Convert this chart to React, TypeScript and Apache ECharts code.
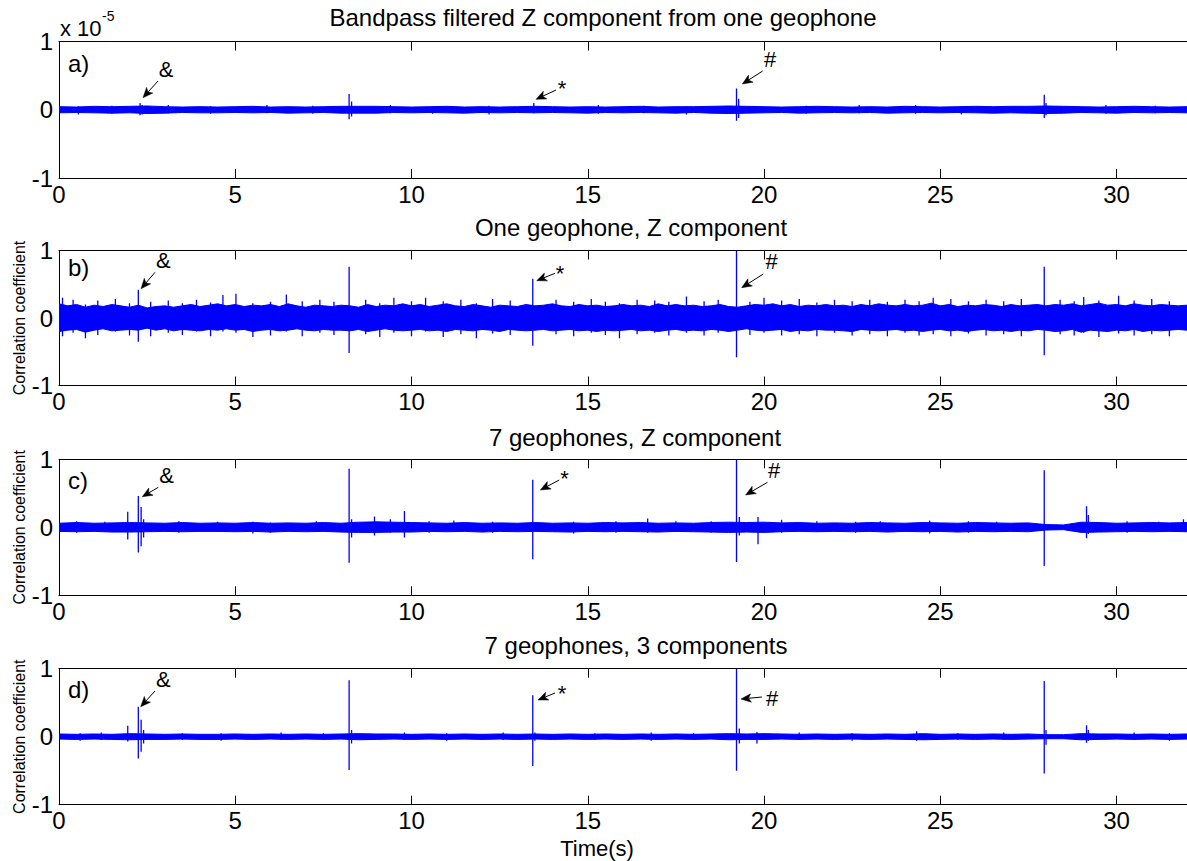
import React, { useEffect, useRef } from 'react';
import * as echarts from 'echarts';

// ---------- data ----------
const X_MIN = 0;
const X_MAX = 32;
const X_INTERVAL = 5;
const Y_MIN = -1;
const Y_MAX = 1;
const Y_INTERVAL = 1;

const TITLES = [
  'Bandpass filtered Z component from one geophone',
  'One geophone, Z component',
  '7 geophones, Z component',
  '7 geophones, 3 components',
];
const PANEL_LETTERS = ['a)', 'b)', 'c)', 'd)'];
const Y_NAME = 'Correlation coefficient';
const X_NAME = 'Time(s)';
const SCALE_BASE = 'x 10';
const SCALE_EXP = '-5';

// noise envelope, panel a (units of 1e-5), one value every 0.5 s from t = 0
const STEP_A = 0.5;
const HI_A = [
  0.045, 0.04, 0.05, 0.045, 0.05, 0.055, 0.045, 0.04, 0.045,
  0.04, 0.045, 0.05, 0.04, 0.045, 0.04, 0.045, 0.05, 0.05,
  0.05, 0.045, 0.04, 0.045, 0.05, 0.04, 0.045, 0.04, 0.045,
  0.05, 0.045, 0.04, 0.045, 0.04, 0.045, 0.05, 0.04, 0.045,
  0.045, 0.05, 0.055, 0.05, 0.045, 0.04, 0.045, 0.05, 0.045,
  0.04, 0.045, 0.04, 0.05, 0.045, 0.04, 0.045, 0.05, 0.045,
  0.05, 0.05, 0.055, 0.05, 0.045, 0.04, 0.045, 0.05, 0.045,
  0.04, 0.045,
];
const LO_A = [
  -0.045, -0.04, -0.045, -0.05, -0.045, -0.055, -0.05, -0.04, -0.045,
  -0.045, -0.04, -0.045, -0.04, -0.05, -0.045, -0.04, -0.05, -0.05,
  -0.05, -0.04, -0.045, -0.04, -0.045, -0.05, -0.04, -0.045, -0.04,
  -0.045, -0.04, -0.045, -0.05, -0.04, -0.045, -0.04, -0.045, -0.05,
  -0.04, -0.05, -0.055, -0.05, -0.045, -0.04, -0.05, -0.045, -0.04,
  -0.045, -0.04, -0.05, -0.045, -0.04, -0.045, -0.04, -0.045, -0.05,
  -0.045, -0.05, -0.055, -0.05, -0.04, -0.045, -0.05, -0.04, -0.045,
  -0.04, -0.045,
];
// spikes [t, low, high]
const SPIKES_A = [
  [2.3, -0.08, 0.1], [2.36, -0.07, 0.07], [8.23, -0.14, 0.23], [8.3, -0.1, 0.12], [13.47, -0.05, 0.1],
  [19.22, -0.16, 0.31], [19.28, -0.12, 0.16], [27.95, -0.12, 0.22], [28.0, -0.08, 0.1],
  [0.55, -0.07, 0.05], [1.5, -0.06, 0.06], [3.1, -0.05, 0.07], [4.3, -0.06, 0.05],
  [5.9, -0.05, 0.07], [7.2, -0.06, 0.06], [9.4, -0.05, 0.07], [10.6, -0.06, 0.05],
  [12.2, -0.07, 0.06], [15.3, -0.06, 0.07], [16.6, -0.05, 0.06], [17.8, -0.07, 0.05],
  [21.2, -0.06, 0.06], [22.7, -0.05, 0.07], [24.3, -0.06, 0.07], [25.6, -0.07, 0.05],
  [29.7, -0.06, 0.07], [31.1, -0.05, 0.06],
];

// panel b, one value every 0.25 s
const STEP_B = 0.25;
const HI_B = [
  0.21, 0.18, 0.2, 0.16, 0.19, 0.17, 0.2, 0.18,
  0.16, 0.19, 0.15, 0.17, 0.18, 0.16, 0.18, 0.2,
  0.17, 0.19, 0.21, 0.18, 0.2, 0.17, 0.19, 0.18,
  0.2, 0.17, 0.21, 0.18, 0.16, 0.19, 0.18, 0.17,
  0.19, 0.18, 0.16, 0.2, 0.17, 0.19, 0.18, 0.21,
  0.18, 0.2, 0.17, 0.19, 0.21, 0.18, 0.17, 0.2,
  0.18, 0.16, 0.19, 0.18, 0.17, 0.2, 0.18, 0.19,
  0.21, 0.18, 0.17, 0.2, 0.18, 0.19, 0.17, 0.18,
  0.2, 0.18, 0.19, 0.17, 0.21, 0.18, 0.2, 0.18,
  0.19, 0.17, 0.18, 0.2, 0.17, 0.16, 0.18, 0.2,
  0.19, 0.21, 0.18, 0.2, 0.17, 0.19, 0.18, 0.2,
  0.18, 0.19, 0.17, 0.2, 0.18, 0.21, 0.19, 0.18,
  0.2, 0.18, 0.19, 0.22, 0.18, 0.2, 0.17, 0.19,
  0.18, 0.2, 0.19, 0.17, 0.2, 0.18, 0.19, 0.2,
  0.18, 0.2, 0.19, 0.21, 0.18, 0.2, 0.22, 0.19,
  0.2, 0.18, 0.21, 0.19, 0.18, 0.2, 0.19, 0.18,
  0.19,
];
const LO_B = [
  -0.2, -0.18, -0.17, -0.21, -0.18, -0.16, -0.19, -0.18,
  -0.17, -0.18, -0.15, -0.18, -0.16, -0.19, -0.17, -0.18,
  -0.19, -0.17, -0.18, -0.16, -0.18, -0.17, -0.2, -0.18,
  -0.17, -0.19, -0.18, -0.16, -0.18, -0.19, -0.17, -0.18,
  -0.18, -0.19, -0.17, -0.2, -0.18, -0.16, -0.18, -0.19,
  -0.18, -0.17, -0.19, -0.18, -0.2, -0.17, -0.18, -0.19,
  -0.17, -0.18, -0.2, -0.17, -0.18, -0.19, -0.18, -0.17,
  -0.19, -0.18, -0.17, -0.19, -0.18, -0.2, -0.18, -0.19,
  -0.18, -0.17, -0.19, -0.18, -0.2, -0.18, -0.17, -0.19,
  -0.18, -0.19, -0.17, -0.18, -0.2, -0.18, -0.16, -0.18,
  -0.19, -0.18, -0.17, -0.2, -0.18, -0.19, -0.17, -0.18,
  -0.18, -0.19, -0.2, -0.17, -0.18, -0.19, -0.18, -0.17,
  -0.19, -0.18, -0.2, -0.18, -0.17, -0.19, -0.18, -0.2,
  -0.18, -0.17, -0.19, -0.18, -0.2, -0.18, -0.19, -0.17,
  -0.18, -0.2, -0.19, -0.17, -0.21, -0.18, -0.19, -0.2,
  -0.18, -0.19, -0.17, -0.2, -0.18, -0.19, -0.18, -0.17,
  -0.18,
];
const SPIKES_B = [
  [2.25, -0.35, 0.42], [8.23, -0.52, 0.76], [13.44, -0.41, 0.58], [19.22, -0.58, 1.0], [27.95, -0.55, 0.76],
  [0.1, -0.27, 0.3], [0.4, -0.22, 0.27], [0.75, -0.3, 0.2], [1.1, -0.25, 0.26], [1.6, -0.2, 0.28],
  [2.0, -0.26, 0.22], [2.6, -0.27, 0.24], [3.1, -0.22, 0.26], [3.5, -0.25, 0.22], [3.9, -0.2, 0.27],
  [4.3, -0.27, 0.23], [4.65, -0.2, 0.34], [5.02, -0.22, 0.36], [5.5, -0.28, 0.22], [6.0, -0.26, 0.24],
  [6.45, -0.2, 0.35], [6.9, -0.27, 0.25], [7.4, -0.22, 0.27], [7.8, -0.25, 0.24], [8.7, -0.24, 0.27],
  [9.1, -0.28, 0.22], [9.5, -0.22, 0.3], [10.0, -0.27, 0.25], [10.4, -0.2, 0.3], [10.9, -0.28, 0.25],
  [11.4, -0.24, 0.27], [11.84, -0.3, 0.22], [12.3, -0.23, 0.28], [12.8, -0.25, 0.26], [14.1, -0.24, 0.27],
  [14.6, -0.27, 0.24], [15.1, -0.22, 0.28], [15.5, -0.25, 0.24], [15.9, -0.3, 0.22], [16.4, -0.24, 0.27],
  [16.9, -0.22, 0.26], [17.3, -0.26, 0.24], [17.8, -0.22, 0.32], [18.3, -0.26, 0.25], [18.7, -0.22, 0.27],
  [19.6, -0.25, 0.24], [20.0, -0.22, 0.3], [20.5, -0.26, 0.26], [21.0, -0.24, 0.28], [21.5, -0.27, 0.23],
  [22.0, -0.22, 0.27], [22.5, -0.26, 0.25], [23.0, -0.24, 0.27], [23.5, -0.27, 0.24], [24.0, -0.22, 0.27],
  [24.4, -0.26, 0.25], [24.8, -0.24, 0.3], [25.3, -0.27, 0.28], [25.8, -0.23, 0.25], [26.3, -0.26, 0.27],
  [26.8, -0.24, 0.25], [27.3, -0.27, 0.28], [28.4, -0.24, 0.27], [28.8, -0.26, 0.25], [29.07, -0.22, 0.31],
  [29.5, -0.28, 0.26], [30.06, -0.23, 0.33], [30.5, -0.26, 0.26], [31.0, -0.24, 0.28], [31.5, -0.27, 0.25],
];

// panel c, one value every 0.5 s
const STEP_C = 0.5;
const HI_C = [
  0.06, 0.07, 0.06, 0.065, 0.07, 0.065, 0.06, 0.07, 0.06,
  0.065, 0.06, 0.07, 0.06, 0.065, 0.06, 0.07, 0.06, 0.075,
  0.08, 0.075, 0.07, 0.065, 0.06, 0.07, 0.06, 0.065, 0.06,
  0.07, 0.06, 0.065, 0.06, 0.07, 0.065, 0.07, 0.06, 0.065,
  0.06, 0.07, 0.075, 0.07, 0.075, 0.065, 0.07, 0.06, 0.065,
  0.06, 0.07, 0.065, 0.06, 0.07, 0.065, 0.06, 0.07, 0.065,
  0.06, 0.065, 0.04, 0.035, 0.075, 0.07, 0.06, 0.065, 0.07,
  0.065, 0.07,
];
const LO_C = [
  -0.06, -0.065, -0.06, -0.07, -0.07, -0.065, -0.06, -0.065, -0.06,
  -0.06, -0.065, -0.06, -0.07, -0.06, -0.065, -0.06, -0.07, -0.075,
  -0.075, -0.07, -0.07, -0.06, -0.065, -0.06, -0.07, -0.06, -0.065,
  -0.06, -0.065, -0.07, -0.06, -0.065, -0.06, -0.065, -0.07, -0.06,
  -0.065, -0.07, -0.075, -0.07, -0.075, -0.065, -0.06, -0.065, -0.06,
  -0.065, -0.06, -0.07, -0.06, -0.065, -0.06, -0.07, -0.06, -0.065,
  -0.06, -0.065, -0.04, -0.035, -0.075, -0.07, -0.065, -0.06, -0.065,
  -0.06, -0.065,
];
const SPIKES_C = [
  [1.95, -0.18, 0.23], [2.25, -0.37, 0.46], [2.33, -0.28, 0.3], [2.4, -0.15, 0.12],
  [8.23, -0.52, 0.86], [8.3, -0.15, 0.12], [8.95, -0.12, 0.16], [9.4, -0.08, 0.12], [9.8, -0.15, 0.24],
  [13.44, -0.47, 0.7], [19.22, -0.51, 1.0], [19.3, -0.12, 0.15], [19.83, -0.25, 0.15],
  [27.95, -0.57, 0.84], [29.15, -0.16, 0.31], [29.2, -0.1, 0.18],
  [0.5, -0.08, 0.09], [1.3, -0.07, 0.08], [3.4, -0.08, 0.09], [4.5, -0.07, 0.08], [5.5, -0.09, 0.08],
  [6.0, -0.08, 0.07], [7.3, -0.07, 0.09], [10.5, -0.08, 0.09], [11.2, -0.07, 0.1], [12.3, -0.08, 0.08],
  [14.6, -0.09, 0.08], [15.8, -0.08, 0.09], [16.7, -0.08, 0.13], [17.5, -0.07, 0.09], [18.5, -0.08, 0.09],
  [20.5, -0.08, 0.11], [21.5, -0.07, 0.09], [22.6, -0.08, 0.08], [23.3, -0.07, 0.09], [24.7, -0.09, 0.1],
  [25.8, -0.08, 0.09], [26.6, -0.07, 0.08], [30.3, -0.08, 0.09], [31.2, -0.07, 0.08], [31.9, -0.06, 0.12],
];

// panel d, one value every 0.5 s
const STEP_D = 0.5;
const HI_D = [
  0.04, 0.035, 0.04, 0.035, 0.045, 0.04, 0.035, 0.04, 0.035,
  0.035, 0.04, 0.035, 0.04, 0.035, 0.04, 0.035, 0.04, 0.045,
  0.04, 0.04, 0.035, 0.04, 0.035, 0.04, 0.035, 0.04, 0.035,
  0.04, 0.035, 0.04, 0.035, 0.04, 0.035, 0.04, 0.035, 0.04,
  0.035, 0.04, 0.045, 0.04, 0.045, 0.04, 0.035, 0.04, 0.035,
  0.04, 0.035, 0.04, 0.035, 0.045, 0.035, 0.04, 0.035, 0.04,
  0.035, 0.04, 0.03, 0.03, 0.045, 0.04, 0.04, 0.035, 0.04,
  0.035, 0.04,
];
const LO_D = [
  -0.035, -0.04, -0.035, -0.04, -0.045, -0.04, -0.04, -0.035, -0.04,
  -0.04, -0.035, -0.04, -0.035, -0.04, -0.035, -0.04, -0.035, -0.045,
  -0.04, -0.035, -0.04, -0.035, -0.04, -0.035, -0.04, -0.035, -0.04,
  -0.035, -0.04, -0.035, -0.04, -0.035, -0.04, -0.035, -0.04, -0.035,
  -0.04, -0.035, -0.045, -0.04, -0.04, -0.035, -0.04, -0.035, -0.04,
  -0.035, -0.04, -0.035, -0.04, -0.045, -0.04, -0.035, -0.04, -0.035,
  -0.04, -0.035, -0.03, -0.03, -0.045, -0.04, -0.035, -0.04, -0.035,
  -0.04, -0.035,
];
const SPIKES_D = [
  [1.95, -0.07, 0.16], [2.25, -0.32, 0.44], [2.33, -0.22, 0.25], [2.4, -0.1, 0.1],
  [8.23, -0.49, 0.83], [8.3, -0.1, 0.1], [13.44, -0.43, 0.61], [13.5, -0.06, 0.06],
  [19.22, -0.5, 1.0], [19.3, -0.1, 0.12], [19.8, -0.1, 0.07], [27.95, -0.54, 0.82],
  [28.0, -0.12, 0.1], [29.15, -0.09, 0.17], [29.2, -0.06, 0.1],
  [0.6, -0.06, 0.05], [1.2, -0.05, 0.06], [3.5, -0.05, 0.05], [4.6, -0.06, 0.05], [6.3, -0.05, 0.06],
  [7.5, -0.05, 0.05], [9.8, -0.05, 0.06], [11.0, -0.06, 0.05], [12.6, -0.05, 0.06], [15.2, -0.05, 0.05],
  [16.8, -0.06, 0.06], [18.0, -0.05, 0.05], [21.0, -0.05, 0.06], [22.5, -0.06, 0.05], [24.33, -0.06, 0.08],
  [25.5, -0.05, 0.05], [26.8, -0.05, 0.06], [30.5, -0.05, 0.06], [31.5, -0.06, 0.05],
];

const PANELS = [
  { step: STEP_A, hi: HI_A, lo: LO_A, spikes: SPIKES_A },
  { step: STEP_B, hi: HI_B, lo: LO_B, spikes: SPIKES_B },
  { step: STEP_C, hi: HI_C, lo: LO_C, spikes: SPIKES_C },
  { step: STEP_D, hi: HI_D, lo: LO_D, spikes: SPIKES_D },
];

// ---------- layout / style ----------
const BLUE = '#0000ff';
const FONT = '"Liberation Sans", Arial, Helvetica, sans-serif';
const GRIDS = [
  { left: 59, top: 41.5, width: 1129.6, height: 136.5 },
  { left: 59, top: 250.5, width: 1129.6, height: 135 },
  { left: 59, top: 459.3, width: 1129.6, height: 136 },
  { left: 59, top: 668.7, width: 1129.6, height: 136 },
];
const TITLE_POS = [
  [603, 17],
  [631, 227],
  [635, 437],
  [636, 645],
];
const LETTER_POS = [
  [68, 63],
  [68, 267],
  [68, 480],
  [68, 689],
];
// annotations: symbol, text position, arrow tail, arrow head (pixels)
const ANNOTATIONS: [string, number[], number[], number[]][] = [
  ['&', [166, 69], [158, 81], [143, 97.7]],
  ['*', [562, 88], [556, 90], [536, 99.3]],
  ['#', [770, 59], [762.7, 71], [742.3, 84]],
  ['&', [163.3, 260.7], [155, 272.3], [141, 288.7]],
  ['*', [560, 273], [555, 273.3], [536.7, 280.7]],
  ['#', [771.7, 261.7], [763.3, 274], [741.7, 287.7]],
  ['&', [166.7, 475], [158.3, 487.3], [142.3, 496.7]],
  ['*', [564.5, 478], [559.2, 480], [540.4, 490]],
  ['#', [774, 470], [767.5, 482.3], [745.6, 495]],
  ['&', [163.3, 679], [155, 691], [140.7, 706.7]],
  ['*', [562, 693], [555, 693], [538, 700]],
  ['#', [772, 698], [762, 697], [741, 699]],
];

function arrowElements(tail: number[], head: number[]) {
  const dx = head[0] - tail[0];
  const dy = head[1] - tail[1];
  const len = Math.hypot(dx, dy) || 1;
  const ux = dx / len;
  const uy = dy / len;
  const px = -uy;
  const py = ux;
  const hl = 10;
  const hw = 4.2;
  const bx = head[0] - ux * hl;
  const by = head[1] - uy * hl;
  const nx = head[0] - ux * hl * 0.75;
  const ny = head[1] - uy * hl * 0.75;
  return [
    {
      type: 'line',
      z: 100,
      shape: { x1: tail[0], y1: tail[1], x2: nx, y2: ny },
      style: { stroke: '#000', lineWidth: 1 },
    },
    {
      type: 'polygon',
      z: 100,
      shape: {
        points: [
          [head[0], head[1]],
          [bx + px * hw, by + py * hw],
          [nx, ny],
          [bx - px * hw, by - py * hw],
        ],
      },
      style: { fill: '#000', stroke: '#000', lineWidth: 0.5 },
    },
  ];
}

function buildOption() {
  const grid = GRIDS.map((g) => ({ ...g, containLabel: false }));
  const xAxis: any[] = [];
  const yAxis: any[] = [];
  const series: any[] = [];

  GRIDS.forEach((_, i) => {
    xAxis.push({
      type: 'value',
      gridIndex: i,
      min: X_MIN,
      max: X_MAX,
      interval: X_INTERVAL,
      position: 'bottom',
      axisLine: { show: true, onZero: false, lineStyle: { color: '#000', width: 1 } },
      axisTick: { show: true, inside: true, length: 9, lineStyle: { color: '#000', width: 1 } },
      axisLabel: { show: true, fontSize: 24, color: '#000', fontFamily: FONT, margin: 4, showMaxLabel: false },
      splitLine: { show: false },
    });
    xAxis.push({
      type: 'value',
      gridIndex: i,
      min: X_MIN,
      max: X_MAX,
      interval: X_INTERVAL,
      position: 'top',
      axisLine: { show: true, onZero: false, lineStyle: { color: '#000', width: 1 } },
      axisTick: { show: true, inside: true, length: 9, lineStyle: { color: '#000', width: 1 } },
      axisLabel: { show: false },
      splitLine: { show: false },
    });
    yAxis.push({
      type: 'value',
      gridIndex: i,
      min: Y_MIN,
      max: Y_MAX,
      interval: Y_INTERVAL,
      axisLine: { show: true, onZero: false, lineStyle: { color: '#000', width: 1 } },
      axisTick: { show: true, inside: true, length: 9, lineStyle: { color: '#000', width: 1 } },
      axisLabel: { show: true, fontSize: 24, color: '#000', fontFamily: FONT, margin: 6 },
      splitLine: { show: false },
    });

    const p = PANELS[i];
    series.push({
      type: 'custom',
      xAxisIndex: i * 2,
      yAxisIndex: i,
      silent: true,
      clip: true,
      data: [[0, 0]],
      renderItem: (_params: any, api: any) => {
        const n = Math.min(p.hi.length, p.lo.length);
        const pts: number[][] = [];
        for (let k = 0; k < n; k++) pts.push(api.coord([k * p.step, p.hi[k]]));
        for (let k = n - 1; k >= 0; k--) pts.push(api.coord([k * p.step, p.lo[k]]));
        return {
          type: 'polygon',
          shape: { points: pts },
          style: { fill: BLUE, stroke: BLUE, lineWidth: 1 },
        };
      },
    });
    series.push({
      type: 'custom',
      xAxisIndex: i * 2,
      yAxisIndex: i,
      silent: true,
      clip: true,
      data: p.spikes,
      encode: { x: 0, y: [1, 2] },
      renderItem: (_params: any, api: any) => {
        const t = api.value(0);
        const a = api.coord([t, api.value(1)]);
        const b = api.coord([t, api.value(2)]);
        return {
          type: 'line',
          shape: { x1: a[0], y1: a[1], x2: b[0], y2: b[1] },
          style: { stroke: BLUE, lineWidth: 1.3 },
        };
      },
    });
  });

  const graphic: any[] = [];
  TITLES.forEach((t, i) => {
    graphic.push({
      type: 'text',
      x: TITLE_POS[i][0],
      y: TITLE_POS[i][1],
      z: 100,
      style: { text: t, fontSize: 24, fontFamily: FONT, fill: '#000', align: 'center', verticalAlign: 'middle' },
    });
  });
  PANEL_LETTERS.forEach((t, i) => {
    graphic.push({
      type: 'text',
      x: LETTER_POS[i][0],
      y: LETTER_POS[i][1],
      z: 100,
      style: { text: t, fontSize: 24, fontFamily: FONT, fill: '#000', align: 'left', verticalAlign: 'middle' },
    });
  });
  for (let i = 1; i < 4; i++) {
    const g = GRIDS[i];
    graphic.push({
      type: 'text',
      x: 19,
      y: g.top + g.height / 2,
      rotation: Math.PI / 2,
      z: 100,
      style: { text: Y_NAME, fontSize: 16, fontFamily: FONT, fill: '#000', align: 'center', verticalAlign: 'middle' },
    });
  }
  graphic.push({
    type: 'text',
    x: 597,
    y: 848,
    z: 100,
    style: { text: X_NAME, fontSize: 22, fontFamily: FONT, fill: '#000', align: 'center', verticalAlign: 'middle' },
  });
  graphic.push({
    type: 'text',
    x: 60,
    y: 28,
    z: 100,
    style: { text: SCALE_BASE, fontSize: 22, fontFamily: FONT, fill: '#000', align: 'left', verticalAlign: 'middle' },
  });
  graphic.push({
    type: 'text',
    x: 102,
    y: 16,
    z: 100,
    style: { text: SCALE_EXP, fontSize: 14, fontFamily: FONT, fill: '#000', align: 'left', verticalAlign: 'middle' },
  });
  ANNOTATIONS.forEach(([sym, tp, tail, head]) => {
    graphic.push({
      type: 'text',
      x: tp[0],
      y: tp[1],
      z: 100,
      style: { text: sym, fontSize: 22, fontFamily: FONT, fill: '#000', align: 'center', verticalAlign: 'middle' },
    });
    arrowElements(tail, head).forEach((e) => graphic.push(e));
  });

  return {
    animation: false,
    backgroundColor: '#fff',
    grid,
    xAxis,
    yAxis,
    series,
    graphic,
  };
}

export default function App() {
  const ref = useRef<HTMLDivElement>(null);
  useEffect(() => {
    if (!ref.current) return;
    const chart = echarts.init(ref.current, undefined, { renderer: 'svg' });
    chart.setOption(buildOption() as any);
    return () => {
      chart.dispose();
    };
  }, []);
  return (
    <div
      ref={ref}
      style={{ position: 'absolute', left: 0, top: 0, width: 1187, height: 861, background: '#fff' }}
    />
  );
}
